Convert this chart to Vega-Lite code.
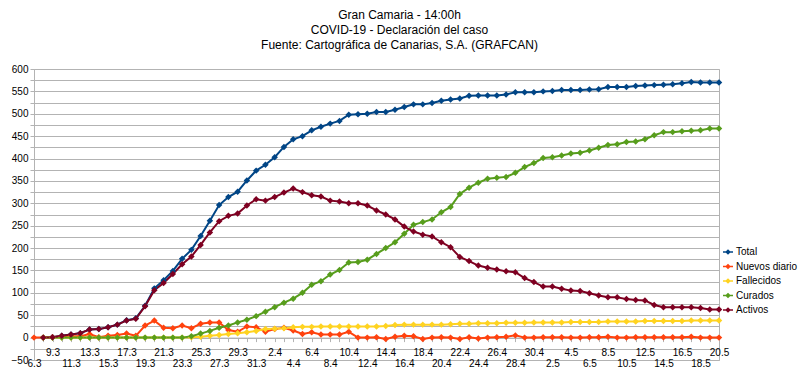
{
  "$schema": "https://vega.github.io/schema/vega-lite/v6.json",
  "width": 685,
  "height": 291,
  "autosize": {"type": "none"},
  "padding": {"left": 34, "top": 69, "right": 81, "bottom": 26},
  "background": "white",
  "config": {"view": {"stroke": "#b3b3b3"}, "font": "Liberation Sans"},
  "title": {
    "text": ["Gran Camaria - 14:00h", "COVID-19 - Declaración del caso", "Fuente: Cartográfica de Canarias, S.A. (GRAFCAN)"],
    "font": "Liberation Sans", "fontSize": 12, "fontWeight": "normal", "lineHeight": 15,
    "anchor": "middle", "frame": "group", "dx": 23, "offset": 12, "color": "#000000"
  },
  "data": {"values": [
    {"fecha": "6.3", "Nuevos diario": 0},
    {"fecha": "8.3", "Total": 0, "Nuevos diario": 0, "Fallecidos": 0, "Curados": 0, "Activos": 0},
    {"fecha": "9.3", "Total": 1, "Nuevos diario": 1, "Fallecidos": 0, "Curados": 0, "Activos": 1},
    {"fecha": "10.3", "Total": 4, "Nuevos diario": 3, "Fallecidos": 0, "Curados": 0, "Activos": 4},
    {"fecha": "11.3", "Total": 7, "Nuevos diario": 3, "Fallecidos": 0, "Curados": 0, "Activos": 7},
    {"fecha": "12.3", "Total": 10, "Nuevos diario": 3, "Fallecidos": 0, "Curados": 0, "Activos": 10},
    {"fecha": "13.3", "Total": 18, "Nuevos diario": 8, "Fallecidos": 0, "Curados": 0, "Activos": 18},
    {"fecha": "14.3", "Total": 19, "Nuevos diario": 1, "Fallecidos": 0, "Curados": 0, "Activos": 19},
    {"fecha": "15.3", "Total": 23, "Nuevos diario": 4, "Fallecidos": 0, "Curados": 0, "Activos": 23},
    {"fecha": "16.3", "Total": 29, "Nuevos diario": 6, "Fallecidos": 0, "Curados": 0, "Activos": 29},
    {"fecha": "17.3", "Total": 39, "Nuevos diario": 9, "Fallecidos": 0, "Curados": 0, "Activos": 38},
    {"fecha": "18.3", "Total": 43, "Nuevos diario": 4, "Fallecidos": 0, "Curados": 0, "Activos": 42},
    {"fecha": "19.3", "Total": 71, "Nuevos diario": 27, "Fallecidos": 0, "Curados": 0, "Activos": 70},
    {"fecha": "20.3", "Total": 110, "Nuevos diario": 38, "Fallecidos": 0, "Curados": 0, "Activos": 106},
    {"fecha": "21.3", "Total": 128, "Nuevos diario": 22, "Fallecidos": 0, "Curados": 0, "Activos": 122},
    {"fecha": "22.3", "Total": 149, "Nuevos diario": 21, "Fallecidos": 0, "Curados": 0, "Activos": 142},
    {"fecha": "23.3", "Total": 176, "Nuevos diario": 27, "Fallecidos": 0, "Curados": 0, "Activos": 164},
    {"fecha": "24.3", "Total": 196, "Nuevos diario": 21, "Fallecidos": 1, "Curados": 3, "Activos": 181},
    {"fecha": "25.3", "Total": 227, "Nuevos diario": 31, "Fallecidos": 2, "Curados": 9, "Activos": 207},
    {"fecha": "26.3", "Total": 261, "Nuevos diario": 34, "Fallecidos": 4, "Curados": 15, "Activos": 235},
    {"fecha": "27.3", "Total": 296, "Nuevos diario": 34, "Fallecidos": 6, "Curados": 22, "Activos": 260},
    {"fecha": "28.3", "Total": 314, "Nuevos diario": 17, "Fallecidos": 8, "Curados": 27, "Activos": 272},
    {"fecha": "29.3", "Total": 326, "Nuevos diario": 13, "Fallecidos": 10, "Curados": 34, "Activos": 277},
    {"fecha": "30.3", "Total": 351, "Nuevos diario": 25, "Fallecidos": 12, "Curados": 40, "Activos": 295},
    {"fecha": "31.3", "Total": 373, "Nuevos diario": 23, "Fallecidos": 15, "Curados": 48, "Activos": 309},
    {"fecha": "1.4", "Total": 386, "Nuevos diario": 13, "Fallecidos": 19, "Curados": 58, "Activos": 306},
    {"fecha": "2.4", "Total": 403, "Nuevos diario": 19, "Fallecidos": 20, "Curados": 68, "Activos": 314},
    {"fecha": "3.4", "Total": 426, "Nuevos diario": 22, "Fallecidos": 21, "Curados": 78, "Activos": 324},
    {"fecha": "4.4", "Total": 443, "Nuevos diario": 16, "Fallecidos": 23, "Curados": 87, "Activos": 333},
    {"fecha": "5.4", "Total": 450, "Nuevos diario": 8, "Fallecidos": 24, "Curados": 100, "Activos": 325},
    {"fecha": "6.4", "Total": 463, "Nuevos diario": 12, "Fallecidos": 24, "Curados": 118, "Activos": 318},
    {"fecha": "7.4", "Total": 471, "Nuevos diario": 7, "Fallecidos": 25, "Curados": 126, "Activos": 315},
    {"fecha": "8.4", "Total": 478, "Nuevos diario": 7, "Fallecidos": 25, "Curados": 141, "Activos": 306},
    {"fecha": "9.4", "Total": 484, "Nuevos diario": 7, "Fallecidos": 25, "Curados": 151, "Activos": 304},
    {"fecha": "10.4", "Total": 498, "Nuevos diario": 13, "Fallecidos": 25, "Curados": 168, "Activos": 300},
    {"fecha": "11.4", "Total": 499, "Nuevos diario": 0, "Fallecidos": 25, "Curados": 169, "Activos": 300},
    {"fecha": "12.4", "Total": 500, "Nuevos diario": 0, "Fallecidos": 25, "Curados": 174, "Activos": 295},
    {"fecha": "13.4", "Total": 504, "Nuevos diario": 1, "Fallecidos": 25, "Curados": 187, "Activos": 284},
    {"fecha": "14.4", "Total": 504, "Nuevos diario": -3, "Fallecidos": 26, "Curados": 200, "Activos": 275},
    {"fecha": "15.4", "Total": 509, "Nuevos diario": 2, "Fallecidos": 28, "Curados": 213, "Activos": 264},
    {"fecha": "16.4", "Total": 515, "Nuevos diario": 4, "Fallecidos": 29, "Curados": 232, "Activos": 248},
    {"fecha": "17.4", "Total": 521, "Nuevos diario": 3, "Fallecidos": 29, "Curados": 252, "Activos": 237},
    {"fecha": "18.4", "Total": 521, "Nuevos diario": -3, "Fallecidos": 29, "Curados": 258, "Activos": 230},
    {"fecha": "19.4", "Total": 524, "Nuevos diario": 0, "Fallecidos": 29, "Curados": 264, "Activos": 226},
    {"fecha": "20.4", "Total": 529, "Nuevos diario": 1, "Fallecidos": 29, "Curados": 280, "Activos": 213},
    {"fecha": "21.4", "Total": 532, "Nuevos diario": 0, "Fallecidos": 30, "Curados": 292, "Activos": 202},
    {"fecha": "22.4", "Total": 534, "Nuevos diario": -3, "Fallecidos": 31, "Curados": 321, "Activos": 180},
    {"fecha": "23.4", "Total": 540, "Nuevos diario": 1, "Fallecidos": 31, "Curados": 335, "Activos": 171},
    {"fecha": "24.4", "Total": 541, "Nuevos diario": -2, "Fallecidos": 32, "Curados": 346, "Activos": 161},
    {"fecha": "25.4", "Total": 541, "Nuevos diario": 0, "Fallecidos": 32, "Curados": 355, "Activos": 156},
    {"fecha": "26.4", "Total": 541, "Nuevos diario": 1, "Fallecidos": 32, "Curados": 357, "Activos": 152},
    {"fecha": "27.4", "Total": 543, "Nuevos diario": 2, "Fallecidos": 33, "Curados": 359, "Activos": 148},
    {"fecha": "28.4", "Total": 548, "Nuevos diario": 5, "Fallecidos": 33, "Curados": 368, "Activos": 146},
    {"fecha": "29.4", "Total": 548, "Nuevos diario": 0, "Fallecidos": 33, "Curados": 381, "Activos": 133},
    {"fecha": "30.4", "Total": 548, "Nuevos diario": 0, "Fallecidos": 34, "Curados": 390, "Activos": 124},
    {"fecha": "1.5", "Total": 550, "Nuevos diario": 1, "Fallecidos": 34, "Curados": 401, "Activos": 114},
    {"fecha": "2.5", "Total": 551, "Nuevos diario": 1, "Fallecidos": 34, "Curados": 403, "Activos": 114},
    {"fecha": "3.5", "Total": 553, "Nuevos diario": 1, "Fallecidos": 34, "Curados": 407, "Activos": 109},
    {"fecha": "4.5", "Total": 553, "Nuevos diario": 0, "Fallecidos": 35, "Curados": 411, "Activos": 105},
    {"fecha": "5.5", "Total": 553, "Nuevos diario": 0, "Fallecidos": 35, "Curados": 413, "Activos": 104},
    {"fecha": "6.5", "Total": 554, "Nuevos diario": 1, "Fallecidos": 35, "Curados": 418, "Activos": 99},
    {"fecha": "7.5", "Total": 555, "Nuevos diario": 1, "Fallecidos": 35, "Curados": 424, "Activos": 94},
    {"fecha": "8.5", "Total": 560, "Nuevos diario": 2, "Fallecidos": 36, "Curados": 430, "Activos": 90},
    {"fecha": "9.5", "Total": 560, "Nuevos diario": 0, "Fallecidos": 36, "Curados": 432, "Activos": 90},
    {"fecha": "10.5", "Total": 560, "Nuevos diario": 0, "Fallecidos": 36, "Curados": 437, "Activos": 86},
    {"fecha": "11.5", "Total": 562, "Nuevos diario": 1, "Fallecidos": 36, "Curados": 438, "Activos": 84},
    {"fecha": "12.5", "Total": 563, "Nuevos diario": 1, "Fallecidos": 37, "Curados": 443, "Activos": 83},
    {"fecha": "13.5", "Total": 564, "Nuevos diario": 1, "Fallecidos": 37, "Curados": 452, "Activos": 73},
    {"fecha": "14.5", "Total": 565, "Nuevos diario": 1, "Fallecidos": 37, "Curados": 459, "Activos": 68},
    {"fecha": "15.5", "Total": 566, "Nuevos diario": 1, "Fallecidos": 37, "Curados": 459, "Activos": 68},
    {"fecha": "16.5", "Total": 568, "Nuevos diario": 1, "Fallecidos": 37, "Curados": 461, "Activos": 68},
    {"fecha": "17.5", "Total": 571, "Nuevos diario": 2, "Fallecidos": 38, "Curados": 462, "Activos": 68},
    {"fecha": "18.5", "Total": 570, "Nuevos diario": 0, "Fallecidos": 38, "Curados": 463, "Activos": 66},
    {"fecha": "19.5", "Total": 570, "Nuevos diario": 0, "Fallecidos": 38, "Curados": 467, "Activos": 63},
    {"fecha": "20.5", "Total": 570, "Nuevos diario": 0, "Fallecidos": 38, "Curados": 467, "Activos": 63}
  ]},
  "transform": [
    {"fold": ["Total", "Nuevos diario", "Fallecidos", "Curados", "Activos"], "as": ["serie", "valor"]}
  ],
  "mark": {"type": "line", "strokeWidth": 2, "point": {"shape": "diamond", "size": 42, "filled": true}},
  "encoding": {
    "x": {
      "field": "fecha", "type": "ordinal",
      "scale": {"type": "point", "padding": 0, "domain": ["6.3","8.3","9.3","10.3","11.3","12.3","13.3","14.3","15.3","16.3","17.3","18.3","19.3","20.3","21.3","22.3","23.3","24.3","25.3","26.3","27.3","28.3","29.3","30.3","31.3","1.4","2.4","3.4","4.4","5.4","6.4","7.4","8.4","9.4","10.4","11.4","12.4","13.4","14.4","15.4","16.4","17.4","18.4","19.4","20.4","21.4","22.4","23.4","24.4","25.4","26.4","27.4","28.4","29.4","30.4","1.5","2.5","3.5","4.5","5.5","6.5","7.5","8.5","9.5","10.5","11.5","12.5","13.5","14.5","15.5","16.5","17.5","18.5","19.5","20.5"]},
      "axis": {
        "title": null, "offset": -22.4, "labelAngle": 0, "labelFontSize": 10, "labelColor": "#000000",
        "labelFont": "Liberation Sans", "labelOverlap": false, "labelBaseline": "top",
        "labelPadding": {"condition": {"test": "indexof(['6.3','11.3','15.3','19.3','23.3','27.3','31.3','4.4','8.4','12.4','16.4','20.4','24.4','28.4','2.5','6.5','10.5','14.5','18.5'], datum.value) >= 0", "value": 16.5}, "value": 5.5},
        "tickSize": 4, "tickColor": "#b3b3b3", "domainColor": "#b3b3b3", "grid": false,
        "labelExpr": "indexof(['6.3','11.3','15.3','19.3','23.3','27.3','31.3','4.4','8.4','12.4','16.4','20.4','24.4','28.4','2.5','6.5','10.5','14.5','18.5','9.3','13.3','17.3','21.3','25.3','29.3','2.4','6.4','10.4','14.4','18.4','22.4','26.4','30.4','4.5','8.5','12.5','16.5','20.5'], datum.value) >= 0 ? datum.label : ''"
      }
    },
    "y": {
      "field": "valor", "type": "quantitative",
      "scale": {"domain": [-50, 600], "nice": false, "zero": false},
      "axis": {
        "title": null,
        "values": [-50,-25,0,25,50,75,100,125,150,175,200,225,250,275,300,325,350,375,400,425,450,475,500,525,550,575,600],
        "labelExpr": "datum.value % 50 == 0 ? datum.label : ''",
        "gridColor": "#b3b3b3", "domainColor": "#b3b3b3", "tickColor": "#b3b3b3", "tickSize": 4,
        "labelFontSize": 10, "labelColor": "#000000", "labelFont": "Liberation Sans", "labelPadding": 2
      }
    },
    "color": {
      "field": "serie", "type": "nominal",
      "scale": {"domain": ["Total", "Nuevos diario", "Fallecidos", "Curados", "Activos"], "range": ["#004586", "#ff420e", "#ffd320", "#579d1c", "#7e0021"]},
      "legend": {
        "title": null, "orient": "none", "legendX": 688, "legendY": 177, "padding": 0,
        "labelFontSize": 10, "labelFont": "Liberation Sans", "labelColor": "#000000", "labelOffset": 2,
        "symbolType": "M-1,0L1,0M0,-0.35L0.35,0L0,0.35L-0.35,0Z", "symbolSize": 100, "symbolStrokeWidth": 1.5,
        "rowPadding": 3.5
      }
    }
  }
}
